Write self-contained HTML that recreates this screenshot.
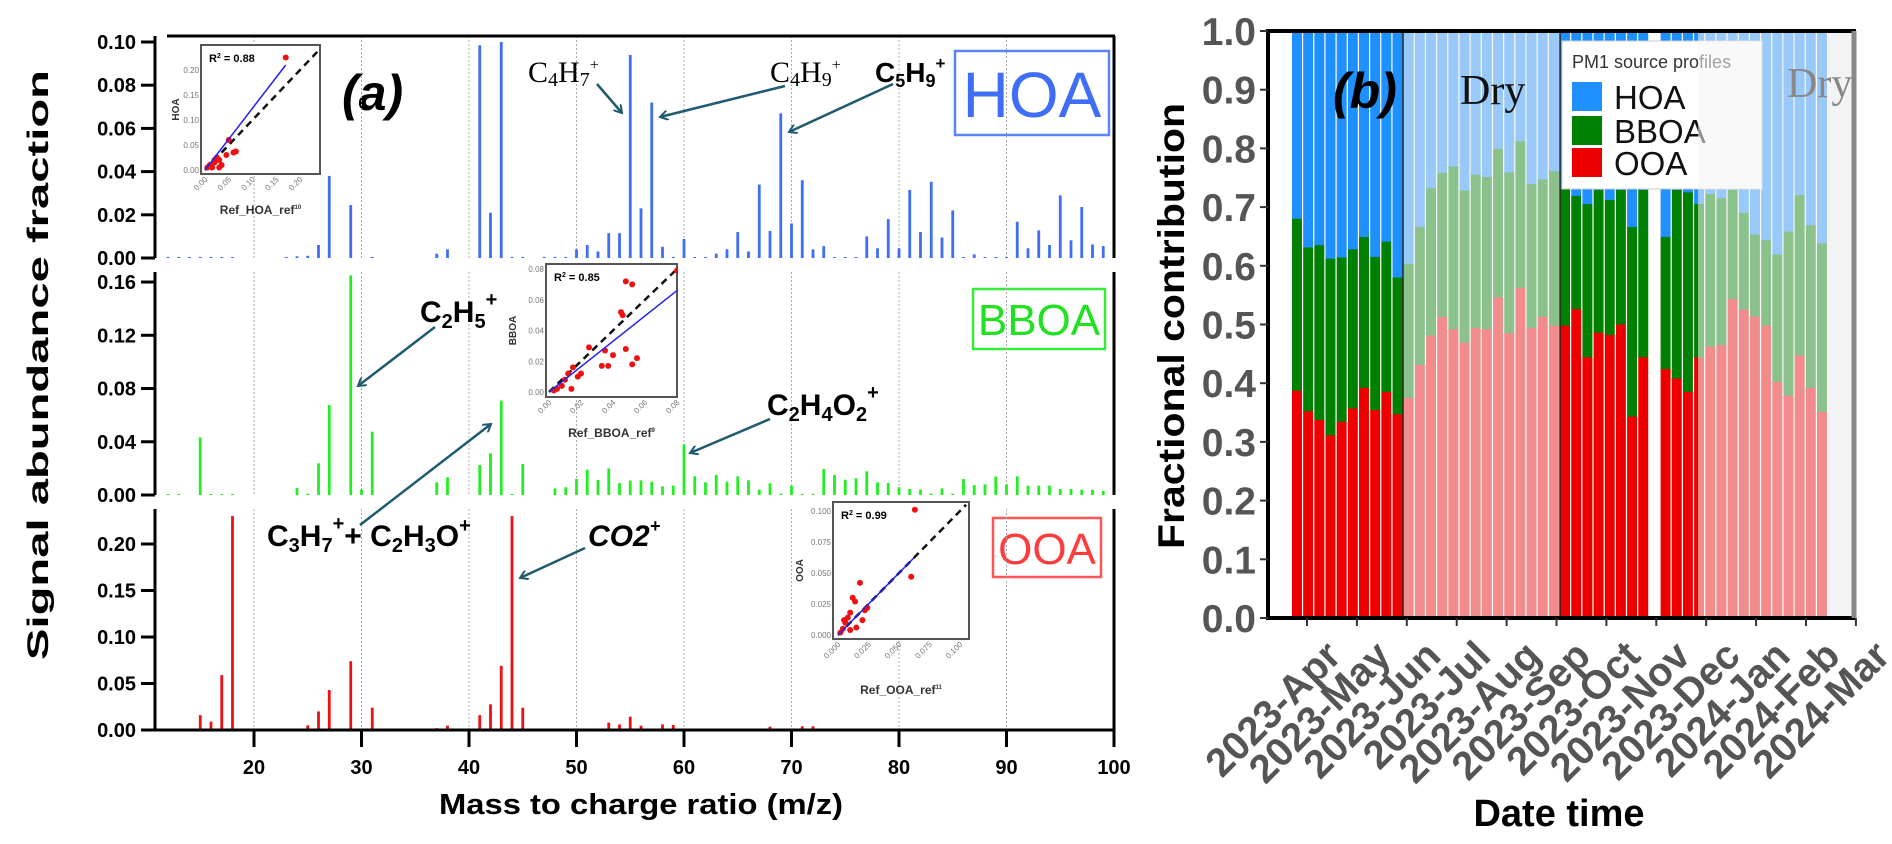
<!DOCTYPE html>
<html><head><meta charset="utf-8">
<style>
html,body{margin:0;padding:0;background:#fff;}
svg{display:block;}
text{font-family:"Liberation Sans",sans-serif;}
.nar{font-family:"Liberation Sans Narrow","Liberation Sans",sans-serif;}
.ser{font-family:"Liberation Serif",serif;}
</style></head>
<body>
<svg id="fig" width="1892" height="844" viewBox="0 0 1892 844" xmlns="http://www.w3.org/2000/svg">
  <!-- Panel (a) static text -->
  <text class="nar" x="0" y="0" transform="translate(48,365) rotate(-90)" text-anchor="middle" font-size="30" font-weight="bold" textLength="590" lengthAdjust="spacingAndGlyphs">Signal abundance fraction</text>
  <text class="nar" x="641" y="814" text-anchor="middle" font-size="29" font-weight="bold" textLength="404" lengthAdjust="spacingAndGlyphs">Mass to charge ratio (m/z)</text>
  <text x="342" y="110" font-size="50" font-weight="bold" font-style="italic">(a)</text>

  <g><rect x="955" y="51" width="154" height="84" fill="#fff" stroke="#5a85f5" stroke-width="2.5"/><text x="1032" y="117" text-anchor="middle" font-size="64" fill="#3d6ef5">HOA</text></g>
  <g><rect x="973" y="289" width="132" height="60" fill="#fff" stroke="#33ee33" stroke-width="2.5"/><text x="1039" y="335" text-anchor="middle" font-size="44" fill="#22e022">BBOA</text></g>
  <g><rect x="993" y="518" width="108" height="59" fill="#fff" stroke="#ff5555" stroke-width="2.5"/><text x="1047" y="564" text-anchor="middle" font-size="44" fill="#ff3b3b">OOA</text></g>

  <g id="pa"></g>
  <g id="ins"></g>

  <!-- annotations -->
  <defs><marker id="ah" markerWidth="10" markerHeight="10" refX="8" refY="5" orient="auto" markerUnits="userSpaceOnUse"><path d="M0,0 L8,5 L0,10" fill="none" stroke="#1f5a6e" stroke-width="2"/></marker></defs>
  <g><text class="ser" x="528" y="82" font-size="30">C<tspan font-size="20" dy="4">4</tspan><tspan dy="-4">H</tspan><tspan font-size="20" dy="4">7</tspan><tspan font-size="16" dy="-16">+</tspan></text><line x1="597" y1="84" x2="622" y2="113" stroke="#1f5a6e" stroke-width="2.5" marker-end="url(#ah)"/></g>
  <g><text class="ser" x="770" y="82" font-size="30">C<tspan font-size="20" dy="4">4</tspan><tspan dy="-4">H</tspan><tspan font-size="20" dy="4">9</tspan><tspan font-size="16" dy="-16">+</tspan></text><line x1="785" y1="86" x2="660" y2="117" stroke="#1f5a6e" stroke-width="2.5" marker-end="url(#ah)"/></g>
  <g><text class="nar" x="875" y="82" font-size="28" font-weight="bold">C<tspan font-size="18" dy="5">5</tspan><tspan dy="-5">H</tspan><tspan font-size="18" dy="5">9</tspan><tspan font-size="17" dy="-18">+</tspan></text><line x1="893" y1="84" x2="789" y2="132" stroke="#1f5a6e" stroke-width="2.5" marker-end="url(#ah)"/></g>
  <g><text class="nar" x="420" y="322" font-size="30" font-weight="bold">C<tspan font-size="20" dy="6">2</tspan><tspan dy="-6">H</tspan><tspan font-size="20" dy="6">5</tspan><tspan font-size="20" dy="-22">+</tspan></text><line x1="435" y1="327" x2="358" y2="386" stroke="#1f5a6e" stroke-width="2.5" marker-end="url(#ah)"/></g>
  <g><text class="nar" x="767" y="415" font-size="30" font-weight="bold">C<tspan font-size="20" dy="6">2</tspan><tspan dy="-6">H</tspan><tspan font-size="20" dy="6">4</tspan><tspan dy="-6">O</tspan><tspan font-size="20" dy="6">2</tspan><tspan font-size="20" dy="-22">+</tspan></text><line x1="770" y1="419" x2="690" y2="453" stroke="#1f5a6e" stroke-width="2.5" marker-end="url(#ah)"/></g>
  <g><text class="nar" x="267" y="546" font-size="30" font-weight="bold">C<tspan font-size="20" dy="6">3</tspan><tspan dy="-6">H</tspan><tspan font-size="20" dy="6">7</tspan><tspan font-size="20" dy="-22">+</tspan><tspan dy="16">+ C</tspan><tspan font-size="20" dy="6">2</tspan><tspan dy="-6">H</tspan><tspan font-size="20" dy="6">3</tspan><tspan dy="-6">O</tspan><tspan font-size="20" dy="-14">+</tspan></text><line x1="360" y1="525" x2="491" y2="424" stroke="#1f5a6e" stroke-width="2.5" marker-end="url(#ah)"/></g>
  <g><text class="nar" x="588" y="546" font-size="30" font-weight="bold" font-style="italic">CO2<tspan font-size="18" dy="-14">+</tspan></text><line x1="585" y1="548" x2="520" y2="578" stroke="#1f5a6e" stroke-width="2.5" marker-end="url(#ah)"/></g>

  <!-- Panel (b) -->
  <g id="pb"></g>
  <text transform="translate(1184,326) rotate(-90)" text-anchor="middle" font-size="37" font-weight="bold" textLength="446" lengthAdjust="spacingAndGlyphs">Fractional contribution</text>
  <text x="1559" y="826" text-anchor="middle" font-size="38" font-weight="bold">Date time</text>
</svg>
<script>
// ---------- Panel (a) data ----------
const mzValues = [12,13,14,15,16,17,18,19,20,21,22,23,24,25,26,27,28,29,30,31,32,33,34,35,36,37,38,39,40,41,42,43,44,45,46,47,48,49,50,51,52,53,54,55,56,57,58,59,60,61,62,63,64,65,66,67,68,69,70,71,72,73,74,75,76,77,78,79,80,81,82,83,84,85,86,87,88,89,90,91,92,93,94,95,96,97,98,99,100];
const hoaProfile = [0.0005,0.0005,0.0005,0.0005,0.0005,0.0005,0.0003,0,0,0,0,0.0003,0.0008,0.001,0.006,0.038,0,0.0245,0,0.0005,0,0,0,0,0,0.002,0.004,0,0,0.0985,0.021,0.103,0.0005,0.0005,0,0.0005,0.0005,0.0005,0.004,0.006,0.003,0.0115,0.0115,0.094,0.023,0.072,0.0052,0.0005,0.0088,0.0003,0.0003,0.002,0.004,0.012,0.003,0.034,0.0125,0.067,0.016,0.036,0.004,0.0055,0.0003,0.0003,0.0003,0.010,0.0045,0.018,0.0045,0.0315,0.012,0.0353,0.0095,0.022,0.0003,0.0017,0.0003,0.0003,0.0003,0.0168,0.0045,0.0128,0.006,0.029,0.0082,0.0236,0.0063,0.0055,0.0003];
const bboaProfile = [0.0005,0.0005,0,0.0433,0.0005,0.0005,0.0005,0,0,0,0,0,0.0053,0.001,0.0238,0.0676,0,0.165,0.004,0.0476,0,0,0,0,0,0.0095,0.0133,0,0,0.0225,0.0313,0.0709,0.0008,0.0233,0,0,0.005,0.0058,0.012,0.019,0.0113,0.02,0.009,0.0108,0.011,0.01,0.0065,0.007,0.038,0.014,0.0095,0.015,0.01,0.014,0.011,0.004,0.0088,0.001,0.007,0.0008,0.0008,0.0195,0.015,0.0115,0.0125,0.0178,0.0095,0.009,0.0058,0.0045,0.004,0.001,0.005,0.001,0.012,0.0075,0.008,0.0138,0.008,0.014,0.007,0.007,0.007,0.0045,0.0045,0.004,0.004,0.003,0.0095];
const ooaProfile = [0.0005,0.0005,0.0005,0.016,0.009,0.059,0.23,0,0,0,0,0,0.0008,0.005,0.02,0.043,0,0.074,0.0008,0.024,0,0,0,0,0,0.002,0.0047,0,0,0.016,0.0276,0.069,0.23,0.024,0.0008,0.0008,0.0008,0.0008,0.0008,0.0008,0.0008,0.008,0.006,0.0143,0.0047,0.0008,0.006,0.0054,0.0008,0.0008,0.0008,0.0008,0.0008,0.0008,0.0008,0.0008,0.0036,0.0008,0.0008,0.004,0.004,0.0008,0.0008,0.0008,0.0008,0.0008,0.0008,0.0008,0.0008,0.0008,0.0008,0.0008,0.0008,0.0008,0.0008,0.0008,0.0008,0.0008,0.0008,0.0008,0.0008,0.0008,0.0008,0.0008,0.0008,0.0008,0.0008,0.0008,0.0008];
const mzTicks = [20,30,40,50,60,70,80,90,100];
const hoaTicks = [0,0.02,0.04,0.06,0.08,0.10];
const bboaTicks = [0,0.04,0.08,0.12,0.16];
const ooaTicks = [0,0.05,0.10,0.15,0.20];
// inset scatter data
const hoaRefX = [0.17,0.05,0.045,0.06,0.065,0.01,0.02,0.025,0.015,0.03,0.02,0.005,0.03,0.035];
const hoaFitY = [0.225,0.06,0.03,0.035,0.037,0.01,0.02,0.025,0.005,0.005,0.015,0.005,0.02,0.01];
const bboaRefX = [0.08,0.048,0.052,0.045,0.046,0.048,0.055,0.052,0.04,0.035,0.037,0.033,0.025,0.015,0.012,0.018,0.01,0.008,0.005,0.014,0.02,0.003];
const bboaFitY = [0.079,0.072,0.07,0.052,0.05,0.028,0.022,0.018,0.024,0.027,0.017,0.017,0.029,0.016,0.012,0.01,0.008,0.004,0.002,0.002,0.012,0.001];
const ooaRefX = [0.063,0.06,0.018,0.012,0.014,0.022,0.024,0.02,0.01,0.008,0.006,0.004,0.01,0.002,0.015,0.005];
const ooaFitY = [0.101,0.047,0.042,0.03,0.027,0.02,0.022,0.012,0.018,0.014,0.01,0.005,0.004,0.002,0.006,0.012];

// ---------- Panel (b) data ----------
const months = ["2023-Apr","2023-May","2023-Jun","2023-Jul","2023-Aug","2023-Sep","2023-Oct","2023-Nov","2023-Dec","2024-Jan","2024-Feb","2024-Mar"];
const ooaFrac = [0.388,0.353,0.338,0.312,0.335,0.358,0.393,0.355,0.386,0.348,0.376,0.432,0.482,0.514,0.493,0.470,0.495,0.493,0.547,0.486,0.563,0.495,0.514,0.499,0.499,0.527,0.445,0.487,0.483,0.501,0.344,0.445,null,0.425,0.409,0.386,0.445,0.463,0.466,0.544,0.526,0.514,0.499,0.403,0.380,0.448,0.393,0.352];
const bboaFrac = [0.293,0.279,0.298,0.301,0.280,0.271,0.257,0.261,0.256,0.233,0.228,0.235,0.251,0.245,0.277,0.259,0.261,0.259,0.253,0.274,0.250,0.245,0.234,0.263,0.232,0.193,0.261,0.243,0.230,0.229,0.323,0.285,null,0.225,0.321,0.340,0.261,0.260,0.250,0.186,0.165,0.140,0.146,0.217,0.279,0.273,0.277,0.287];
const hoaFrac = [0.319,0.368,0.364,0.387,0.385,0.371,0.350,0.384,0.358,0.419,0.396,0.333,0.267,0.241,0.230,0.271,0.244,0.248,0.200,0.240,0.187,0.260,0.252,0.238,0.269,0.280,0.294,0.270,0.287,0.270,0.333,0.270,null,0.350,0.270,0.274,0.294,0.277,0.284,0.270,0.309,0.346,0.355,0.380,0.341,0.279,0.330,0.361];
const fracTicks = [0,0.1,0.2,0.3,0.4,0.5,0.6,0.7,0.8,0.9,1.0];

const NS = "http://www.w3.org/2000/svg";
function mk(parent, tag, attrs, txt){
  const e = document.createElementNS(NS, tag);
  for (const k in attrs) e.setAttribute(k, attrs[k]);
  if (txt !== undefined) e.textContent = txt;
  parent.appendChild(e);
  return e;
}
const pa = document.getElementById('pa');
const xm = m => 254 + (m - 20) * 10.75;
const panels = [
  {name:'hoa', data:hoaProfile, y0:258, top:36, scale:2160, ticks:hoaTicks, fmt:v=>v.toFixed(2), color:'#3d6ef5', max:0.10},
  {name:'bboa', data:bboaProfile, y0:495, top:272, scale:1331, ticks:bboaTicks, fmt:v=>v.toFixed(2), color:'#22ee22', max:0.165},
  {name:'ooa', data:ooaProfile, y0:730, top:509, scale:930, ticks:ooaTicks, fmt:v=>v.toFixed(2), color:'#ee1111', max:0.23}
];
// gridlines
panels.forEach(p => {
  mzTicks.slice(0,-1).forEach(m => {
    const g = mk(pa,'line',{x1:xm(m),x2:xm(m),y1:p.top,y2:p.y0,stroke:'#aaa','stroke-width':1,'stroke-dasharray':'2,2'});
    
    
  });
});
// bars
panels.forEach(p => {
  p.data.forEach((v, i) => {
    if (v <= 0) return;
    const vv = Math.min(v, p.max);
    const h = Math.max(vv * p.scale, 1);
    const r = mk(pa,'rect',{x:xm(mzValues[i]) - 1.4, y:p.y0 - h, width:2.8, height:h, fill:p.color});
    
    
  });
  // spine
  const s = mk(pa,'line',{x1:155,x2:155,y1:p.top,y2:p.y0,stroke:'#000','stroke-width':3});
  
  
  const rs = mk(pa,'line',{x1:1114,x2:1114,y1:p.top,y2:p.y0,stroke:'#000','stroke-width':3});
  
  
  p.ticks.forEach(t => {
    const y = p.y0 - t * p.scale;
    const tk = mk(pa,'line',{x1:141,x2:155,y1:y,y2:y,stroke:'#000','stroke-width':3});
    
    
    const tl = mk(pa,'text',{x:136,y:y+7,'text-anchor':'end','font-size':20,'font-weight':'bold',class:'nar'}, p.fmt(t));
    
    
  });
});
// frame top, x axis
const ft = mk(pa,'line',{x1:167,x2:1115,y1:36,y2:36,stroke:'#000','stroke-width':3});


const xa = mk(pa,'line',{x1:155,x2:1115,y1:730,y2:730,stroke:'#000','stroke-width':3});


mzTicks.forEach(m => {
  const t = mk(pa,'line',{x1:xm(m),x2:xm(m),y1:730,y2:747,stroke:'#000','stroke-width':3});
  
  
  const l = mk(pa,'text',{x:xm(m),y:774,'text-anchor':'middle','font-size':20,'font-weight':'bold',class:'nar'}, String(m));
  
  
});

// ---------- Insets ----------
const ins = document.getElementById('ins');
const insets = [
  {name:'hoa', box:[201,45,119,129], x0:205, xs:475, y0:170, ys:500, max:0.24, xr:hoaRefX, yr:hoaFitY, fit:[0.17,0.21], r2:'0.88',
   yt:[0,0.05,0.1,0.15,0.2], xt:[0,0.05,0.1,0.15,0.2], fmt:v=>v.toFixed(2), lab:'HOA', xlab:'Ref_HOA_ref', sup:'10'},
  {name:'bboa', box:[546,264,131,133], x0:549, xs:1600, y0:392, ys:1537, max:0.082, xr:bboaRefX, yr:bboaFitY, fit:[0.08,0.066], r2:'0.85',
   yt:[0,0.02,0.04,0.06,0.08], xt:[0,0.02,0.04,0.06,0.08], fmt:v=>v.toFixed(2), lab:'BBOA', xlab:'Ref_BBOA_ref', sup:'9'},
  {name:'ooa', box:[833,502,136,137], x0:838, xs:1220, y0:635, ys:1240, max:0.105, xr:ooaRefX, yr:ooaFitY, fit:[0.062,0.062], r2:'0.99',
   yt:[0,0.025,0.05,0.075,0.1], xt:[0,0.025,0.05,0.075,0.1], fmt:v=>v.toFixed(3), lab:'OOA', xlab:'Ref_OOA_ref', sup:'11'}
];
insets.forEach(s => {
  const [bx,by,bw,bh] = s.box;
  const g = mk(ins,'g',{});
  
  
  mk(g,'rect',{x:bx,y:by,width:bw,height:bh,fill:'#fff',stroke:'#555','stroke-width':2});
  const X = v => s.x0 + v * s.xs, Y = v => s.y0 - v * s.ys;
  const cp = 'cp-' + s.name;
  const c = mk(g,'clipPath',{id:cp}); mk(c,'rect',{x:bx,y:by,width:bw,height:bh});
  const dl = mk(g,'line',{x1:X(0),y1:Y(0),x2:X(s.max),y2:Y(s.max),stroke:'#111','stroke-width':2.5,'stroke-dasharray':'7,5','clip-path':'url(#'+cp+')'});
  
  
  s.xr.forEach((v,i) => {
    const p = mk(g,'circle',{cx:X(v),cy:Y(s.yr[i]),r:3,fill:'#f01010','clip-path':'url(#'+cp+')'});
    
    
  });
  const fl = mk(g,'line',{x1:X(0),y1:Y(0),x2:X(s.fit[0]),y2:Y(s.fit[1]),stroke:'#2222ee','stroke-width':1.5});
  
  
  const rt = mk(g,'text',{x:bx+8,y:by+17,'font-size':11,'font-weight':'bold',class:'nar'});
  rt.innerHTML = 'R<tspan font-size="7" dy="-4">2</tspan><tspan dy="4"> = ' + s.r2 + '</tspan>';
  
  
  s.yt.forEach(t => {
    const l = mk(g,'text',{x:bx-2,y:Y(t)+3,'text-anchor':'end','font-size':8,fill:'#777',class:'nar'}, s.fmt(t));
    
    
  });
  s.xt.forEach(t => {
    const l = mk(g,'text',{x:0,y:0,'text-anchor':'end','font-size':8,fill:'#777',class:'nar',transform:'translate('+(X(t)+3)+','+(by+bh+6)+') rotate(-45)'}, s.fmt(t));
    
    
  });
  const yl = mk(g,'text',{x:0,y:0,'text-anchor':'middle','font-size':10,'font-weight':'bold',fill:'#333',class:'nar',transform:'translate('+(bx-(s.name==='hoa'?22:30))+','+(by+bh/2)+') rotate(-90)'}, s.lab);
  
  
  const xl = mk(g,'text',{x:bx+bw/2,y:by+bh+(s.name==='ooa'?55:40),'text-anchor':'middle','font-size':12,'font-weight':'bold',fill:'#333',class:'nar'});
  xl.innerHTML = s.xlab + '<tspan font-size="6" dy="-5">' + s.sup + '</tspan>';
  
  
});

// ---------- Panel (b) ----------
const pb = document.getElementById('pb');
const L = 1268, R = 1856, T = 31, B = 618, H = B - T;
const yb = v => B - v * H;
const slot0 = 1292, slotW = 11.17;
const bg = mk(pb,'rect',{x:1828,y:T,width:R-1828,height:H,fill:'#f2f2f2'});


ooaFrac.forEach((o, i) => {
  if (o === null) return;
  const x = slot0 + i * slotW;
  const parts = [[o,'#ee0000','ooa'],[bboaFrac[i],'#008000','bboa'],[hoaFrac[i],'#1e90ff','hoa']];
  let acc = 0;
  parts.forEach(([v,col,nm]) => {
    const r = mk(pb,'rect',{x:x, y:yb(acc+v), width:slotW-1.2, height:v*H + 0.5, fill:col});
    
    
    acc += v;
  });
});
// legend
const lg = mk(pb,'g',{});


mk(lg,'rect',{x:1562,y:41,width:200,height:148,fill:'#fff',stroke:'#ccc','stroke-width':1});
mk(lg,'text',{x:1572,y:68,'font-size':18,fill:'#333'}, 'PM1 source profiles');
[['HOA','#1e90ff',82],['BBOA','#008000',116],['OOA','#ee0000',148]].forEach(([n,c,y]) => {
  const e = mk(lg,'g',{});
  
  
  mk(e,'rect',{x:1572,y:y,width:30,height:29,fill:c});
  mk(e,'text',{x:1614,y:y+27,'font-size':33,fill:'#111'}, n);
});
// pale overlays
[[1403,1560],[1698,1850]].forEach(([a,b]) => {
  const o = mk(pb,'rect',{x:a,y:T,width:b-a,height:H,fill:'rgba(244,244,244,0.57)'});
  
  
});
[1403,1560].forEach(x => {
  const l = mk(pb,'line',{x1:x,x2:x,y1:T,y2:B,stroke:'#222','stroke-width':1.5});
  
  
});
// frame
const fr = mk(pb,'path',{d:`M${R},${T} L${L},${T} L${L},${B} L${R},${B}`,fill:'none',stroke:'#000','stroke-width':4});


const rf = mk(pb,'line',{x1:R-2,x2:R-2,y1:T,y2:B,stroke:'#888','stroke-width':5});


fracTicks.forEach(t => {
  const tk = mk(pb,'line',{x1:L-8,x2:L,y1:yb(t),y2:yb(t),stroke:'#333','stroke-width':2});
  
  
  const tl = mk(pb,'text',{x:1256,y:yb(t)+14,'text-anchor':'end','font-size':39,'font-weight':'bold',fill:'#555'}, t.toFixed(1));
  
  
});
const mTick0 = 1307, mTickStep = 49.9;
months.forEach((m, i) => {
  const x = mTick0 + i * mTickStep;
  const tk = mk(pb,'line',{x1:x,x2:x,y1:B,y2:B+8,stroke:'#333','stroke-width':2});
  
  
  const tl = mk(pb,'text',{x:0,y:0,'text-anchor':'end','font-size':40,'font-weight':'bold',fill:'#555',transform:`translate(${x+36},${B+40}) rotate(-45)`}, m);
  
  
});
const bl = mk(pb,'text',{x:1333,y:108,'font-size':50,'font-weight':'bold','font-style':'italic',fill:'#000'}, '(b)');


const d1 = mk(pb,'text',{x:1460,y:104,'font-size':42,class:'ser',fill:'#111'}, 'Dry');


const d2 = mk(pb,'text',{x:1787,y:97,'font-size':42,class:'ser',fill:'#888'}, 'Dry');


</script>
</body></html>
